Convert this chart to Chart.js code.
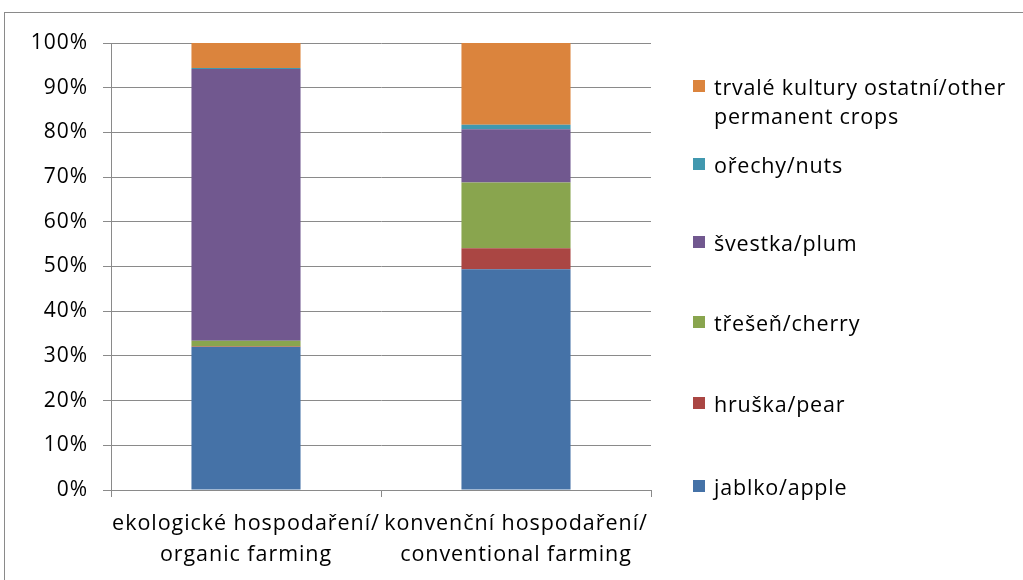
<!DOCTYPE html>
<html>
<head>
<meta charset="utf-8">
<script src="https://cdn.jsdelivr.net/npm/chart.js@4/dist/chart.umd.min.js"></script>
<style>
  html, body { margin: 0; padding: 0; background: #fff; }
  #wrap { position: relative; width: 1023px; height: 580px; overflow: hidden; font-family: "Open Sans", Lato, sans-serif; }
  #frame { position: absolute; left: 4px; top: 12px; width: 1040px; height: 600px; border: 1px solid #8a8a8a; box-sizing: border-box; }
  canvas { position: absolute; left: 0; top: 0; }
  #legend { position: absolute; left: 0; top: 0; width: 1023px; height: 580px; pointer-events: none; }
  .item { position: absolute; left: 693px; display: flex; align-items: flex-start; font-size: 21.5px; line-height: 29px; color: #000; letter-spacing: 0.8px; }
  .sw { width: 12px; height: 12px; margin-top: 8px; margin-right: 9px; flex: none; }
  .tx { width: 318px; }
</style>
</head>
<body>
<div id="wrap">
  <div id="frame"></div>
  <canvas id="c" width="1023" height="580"></canvas>
  <div id="legend"></div>
</div>
<script>
const categories = [
  ["ekologické hospodaření/", "organic farming"],
  ["konvenční hospodaření/", "conventional farming"]
];
const seriesNames = [
  "jablko/apple",
  "hruška/pear",
  "třešeň/cherry",
  "švestka/plum",
  "ořechy/nuts",
  "trvalé kultury ostatní/other permanent crops"
];
const apple  = [32.0, 49.4];
const pear   = [0.1, 4.7];
const cherry = [1.3, 14.7];
const plum   = [60.8, 11.9];
const nuts   = [0.2, 1.0];
const other  = [5.6, 18.3];
const yTicks = [0, 10, 20, 30, 40, 50, 60, 70, 80, 90, 100];

const seriesValues = [apple, pear, cherry, plum, nuts, other];
const colors = ["#4572A7", "#AA4643", "#89A54E", "#71588F", "#4198AF", "#DB843D"];

const datasets = seriesNames.map((name, i) => ({
  label: name,
  data: seriesValues[i],
  backgroundColor: colors[i],
  borderWidth: 0,
  barPercentage: 0.404,
  categoryPercentage: 1.0
}));

const FAMILY = "'Open Sans', Lato, sans-serif";

const spacingPlugin = {
  id: "spacing",
  beforeDraw(chart) { chart.ctx.letterSpacing = "0.95px"; }
};

new Chart(document.getElementById("c"), {
  type: "bar",
  data: { labels: categories, datasets },
  plugins: [spacingPlugin],
  options: {
    responsive: false,
    animation: false,
    devicePixelRatio: 1,
    layout: { padding: { left: 0, right: 372, top: 43, bottom: 0 } },
    plugins: { legend: { display: false }, tooltip: { enabled: false } },
    scales: {
      x: {
        stacked: true,
        grid: { offset: true, drawOnChartArea: false, color: "#8a8a8a", tickLength: 7, lineWidth: 1 },
        border: { color: "#8a8a8a" },
        ticks: { color: "#000", font: { family: FAMILY, size: 21.5, lineHeight: 1.42 }, padding: 12, maxRotation: 0 },
        afterFit: (s) => { s.height = 90; }
      },
      y: {
        stacked: true,
        min: 0, max: 100,
        afterBuildTicks: (s) => { s.ticks = yTicks.map(v => ({ value: v })); },
        grid: { color: "#8a8a8a", tickLength: 8, lineWidth: 1 },
        border: { color: "#8a8a8a" },
        ticks: { color: "#000", font: { family: FAMILY, size: 21 }, padding: 15, callback: (v) => v + "%" },
        afterFit: (s) => { s.width = 111; }
      }
    }
  }
});

const legendTops = [72, 150, 228, 308, 389, 472];
const legend = document.getElementById("legend");
for (let k = seriesNames.length - 1, j = 0; k >= 0; k--, j++) {
  const it = document.createElement("div");
  it.className = "item";
  it.style.top = legendTops[j] + "px";
  it.innerHTML = '<div class="sw" style="background:' + colors[k] + '"></div><div class="tx"></div>';
  it.querySelector(".tx").textContent = seriesNames[k];
  legend.appendChild(it);
}
</script>
</body>
</html>
